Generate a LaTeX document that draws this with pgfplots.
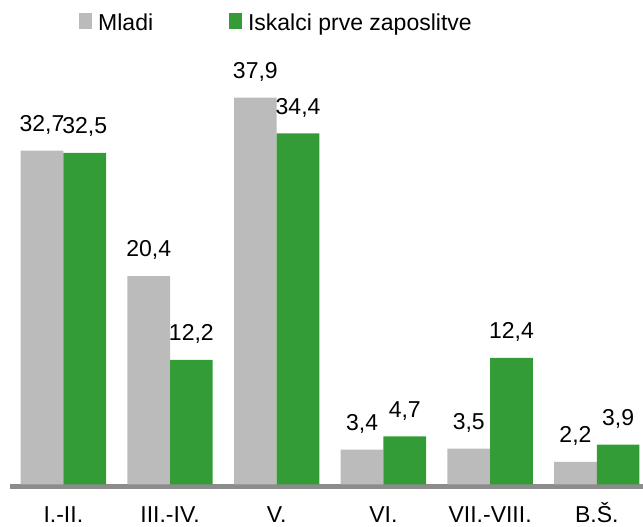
\documentclass[border=0pt]{standalone}
\usepackage{pgfplots}
\pgfplotsset{compat=1.18}
\usepackage{fontspec}
\setmainfont{Liberation Sans}
\definecolor{mgray}{RGB}{187,187,187}
\definecolor{mgreen}{RGB}{52,156,54}
\definecolor{agray}{RGB}{140,140,140}
\begin{document}
\begin{tikzpicture}
\begin{axis}[
  scale only axis,
  width=316.35pt, height=205.25pt,
  xmin=-0.497, xmax=5.433,
  ymin=-0.245, ymax=40,
  clip=false,
  ybar=0pt, bar width=0.4,
  axis x line=bottom, axis y line=none,
  x axis line style={-, line width=2.5pt, color=agray},
  xtick={0,1,2,3,4,5},
  xticklabels={I.-II., III.-IV., V., VI., VII.-VIII., B.Š.},
  xtick style={draw=none},
  ytick=\empty,
  xticklabel style={font=\fontsize{11.5}{13.8}\selectfont, anchor=north, inner sep=0pt, text height=8.2pt, text depth=0pt, yshift=-7.4pt},
  nodes near coords={\pgfmathprintnumber[use comma, fixed, fixed zerofill, precision=1, assume math mode=true]{\pgfplotspointmeta}},
  every node near coord/.append style={font=\fontsize{11.5}{13.8}\selectfont, anchor=south, inner sep=0pt, yshift=8pt, text=black},
  legend columns=2,
  legend image code/.code={\fill[#1] (0pt,1pt) rectangle (6.6pt,8.8pt);},
  legend style={draw=none, fill=none, inner sep=0pt, outer sep=0pt,
    at={(axis description cs:0,1)}, anchor=north west, xshift=34.35pt, yshift=31.45pt,
    font=\fontsize{11.5}{13.8}\selectfont,
    nodes={inner sep=0pt, anchor=base},
    /tikz/every odd column/.append style={column sep=3pt},
    /tikz/every even column/.append style={column sep=37.85pt}},
]
\addplot[fill=mgray, draw=none] coordinates {(0,32.7) (1,20.4) (2,37.9) (3,3.4) (4,3.5) (5,2.2)};
\addlegendentry{Mladi}
\addplot[fill=mgreen, draw=none] coordinates {(0,32.5) (1,12.2) (2,34.4) (3,4.7) (4,12.4) (5,3.9)};
\addlegendentry{Iskalci prve zaposlitve}
\end{axis}
\pgfresetboundingbox
\path ([shift={(-5.15pt,-20.1pt)}]current axis.south west) rectangle ([shift={(0pt,38.15pt)}]current axis.north east);
\end{tikzpicture}
\end{document}
